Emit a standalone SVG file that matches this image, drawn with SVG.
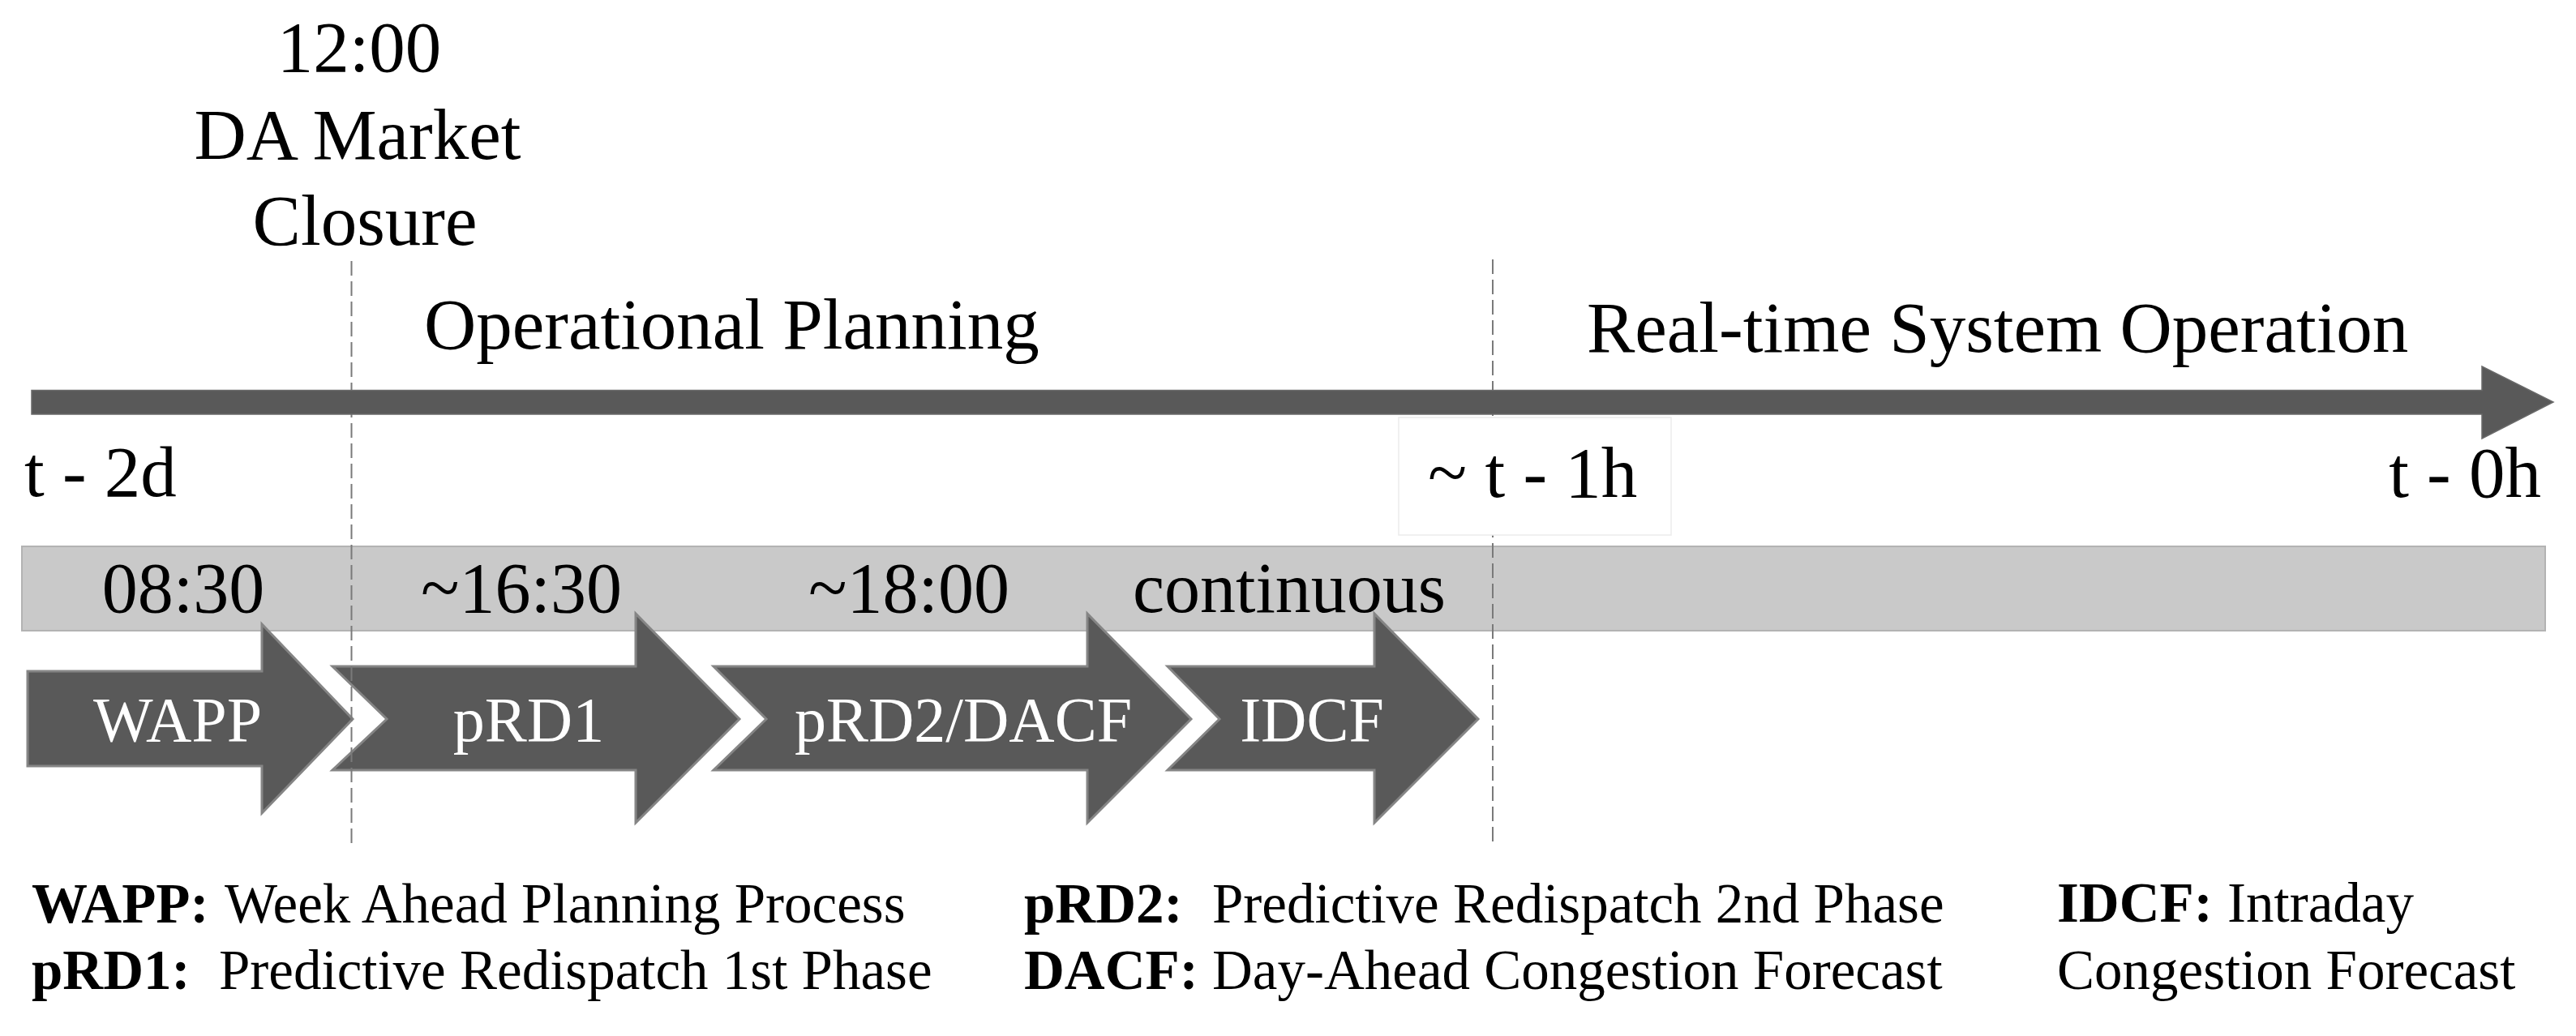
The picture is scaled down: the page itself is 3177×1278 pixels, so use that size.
<svg xmlns="http://www.w3.org/2000/svg" width="3177" height="1278" viewBox="0 0 3177 1278">
<style>
text { font-family: "Liberation Serif", "Times New Roman", serif; fill: #000; }
.big { font-size: 89px; }
.lbl { font-size: 78px; fill: #fff; text-anchor: middle; }
.band { font-size: 88px; text-anchor: middle; }
.leg { font-size: 69px; }
.b { font-weight: bold; }
.arrow { fill: #595959; stroke: #858585; stroke-width: 3; stroke-linejoin: miter; }
.dash { stroke: #7a7a7a; stroke-width: 2; stroke-dasharray: 18 7; fill: none; }
</style>
<rect x="0" y="0" width="3177" height="1278" fill="#fff"/>

<g id="header">
  <text class="big" x="443" y="88" text-anchor="middle">12:00</text>
  <text class="big" x="441" y="196" text-anchor="middle">DA Market</text>
  <text class="big" x="450" y="302" text-anchor="middle">Closure</text>
  <text class="big" x="523" y="430">Operational Planning</text>
  <text class="big" x="1957" y="434">Real-time System Operation</text>
</g>

<g id="band">
  <rect x="27" y="674" width="3112" height="104" fill="#c9c9c9" stroke="#b3b3b3" stroke-width="2"/>
  <text class="band" x="226" y="755">08:30</text>
  <text class="band" x="643" y="755">~16:30</text>
  <text class="band" x="1121" y="755">~18:00</text>
  <text class="band" x="1590" y="755">continuous</text>
</g>

<g id="wapp">
  <polygon class="arrow" points="34,828 323,828 323,770 435,887 323,1003 323,945 34,945"/>
  <text class="lbl" x="219" y="914">WAPP</text>
</g>
<g id="prd1">
  <polygon class="arrow" points="410,822 784,822 784,757 912,887 784,1015 784,950 410,950 477,887"/>
  <text class="lbl" x="652" y="914">pRD1</text>
</g>
<g id="prd2dacf">
  <polygon class="arrow" points="880,822 1341,822 1341,757 1469,887 1341,1015 1341,950 880,950 945,887"/>
  <text class="lbl" x="1188" y="914">pRD2/DACF</text>
</g>
<g id="idcf">
  <polygon class="arrow" points="1440,822 1695,822 1695,757 1823,887 1695,1015 1695,950 1440,950 1504,887"/>
  <text class="lbl" x="1618" y="914">IDCF</text>
</g>

<g id="connectors">
  <line class="dash" x1="433.5" y1="322" x2="433.5" y2="1043"/>
  <line class="dash" x1="1841" y1="320" x2="1841" y2="1043"/>
</g>

<g id="timeline">
  <polygon fill="#595959" stroke="#6a6a6a" stroke-width="1.5" points="39,481.5 3061,481.5 3061,452 3149,496 3061,541 3061,511 39,511"/>
  <rect x="1725" y="515" width="336" height="145" fill="#fff" stroke="#ececec" stroke-width="1.5"/>
  <text class="big" x="30" y="612">t - 2d</text>
  <text class="big" x="1761" y="613">~ t - 1h</text>
  <text class="big" x="3134" y="613" text-anchor="end">t - 0h</text>
</g>

<g id="legend">
  <text class="leg b" x="39" y="1138">WAPP:</text>
  <text class="leg" x="277" y="1138">Week Ahead Planning Process</text>
  <text class="leg b" x="39" y="1220">pRD1:</text>
  <text class="leg" x="270" y="1220">Predictive Redispatch 1st Phase</text>
  <text class="leg b" x="1263" y="1138">pRD2:</text>
  <text class="leg" x="1495" y="1138">Predictive Redispatch 2nd Phase</text>
  <text class="leg b" x="1263" y="1220">DACF:</text>
  <text class="leg" x="1495" y="1220">Day-Ahead Congestion Forecast</text>
  <text class="leg b" x="2537" y="1137">IDCF:</text>
  <text class="leg" x="2747" y="1137">Intraday</text>
  <text class="leg" x="2537" y="1220">Congestion Forecast</text>
</g>
</svg>
